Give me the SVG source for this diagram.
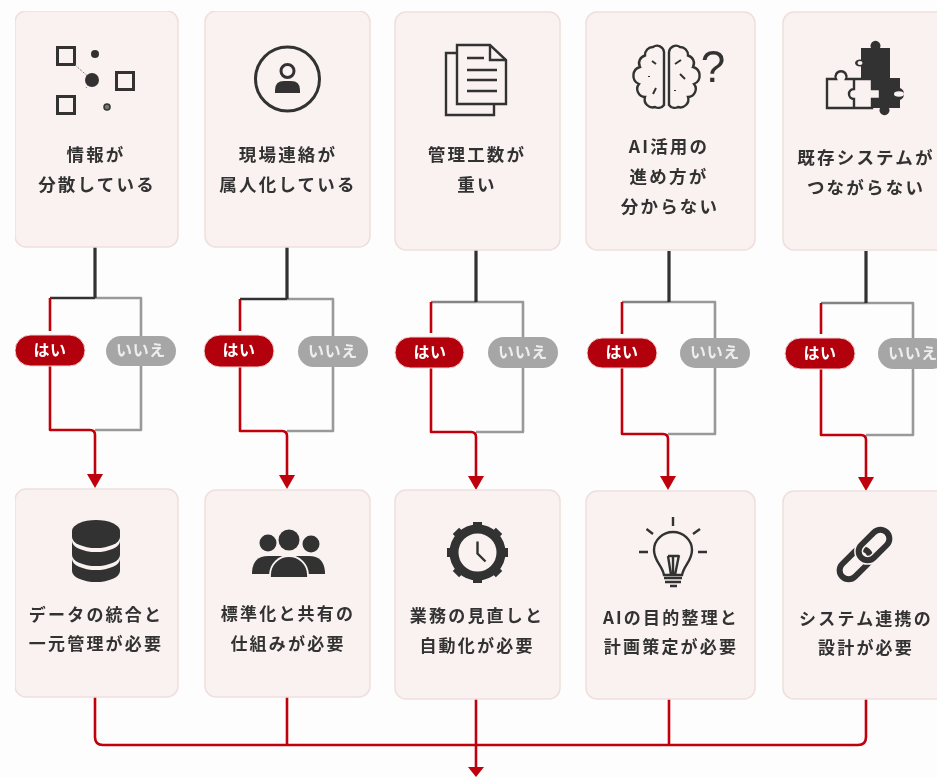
<svg xmlns="http://www.w3.org/2000/svg" width="937" height="777" viewBox="0 0 937 777">
<style>
.card{fill:#f9f2f0;stroke:#eedfdd;stroke-width:1.5}
.t{font-family:"Noto Sans CJK JP","Noto Sans",sans-serif;font-size:17.5px;font-weight:700;fill:#333;text-anchor:middle;letter-spacing:2.2px}
.b{font-size:17px;letter-spacing:2.2px}
.yes rect{fill:#b3000a;stroke:#f0d5d5;stroke-width:1}
.no rect{fill:#a6a6a6}
.yes text,.no text{font-family:"Noto Sans CJK JP",sans-serif;font-size:16px;font-weight:700;text-anchor:middle;letter-spacing:.6px}
.yes text{fill:#fff}.no text{fill:#eee}
.ln{fill:none;stroke:#333;stroke-width:3}
.thin{fill:none;stroke:#333;stroke-width:2.400}
.dk{fill:#333}
.k{fill:none;stroke-width:2.600;stroke-linejoin:round}
.blk{stroke:#303030}.gry{stroke:#999}.red{stroke:#c00008}
.st{stroke-width:3.200}
.hd{fill:#bf0008}
</style>
<rect width="937" height="777" fill="#fefdfd"/>
<g filter="url(#soft)">
<defs><filter id="soft" x="0" y="0" width="100%" height="100%"><feGaussianBlur stdDeviation="0.5"/></filter></defs>
<g id="connectors">
<path class="k gry" d="M95 298H141V430H95"/>
<path class="k blk st" d="M95 247V298"/><path class="k blk" d="M95 298H50"/>
<path class="k red" d="M50 298V331M50 366V430H90Q95 430 95 435V475"/>
<polygon class="hd" points="87,474 103,474 95,488"/>
<path class="k gry" d="M287 299H333V431H287"/>
<path class="k blk st" d="M287 247V299"/><path class="k blk" d="M287 299H240"/>
<path class="k red" d="M240 299V331M240 367V431H282Q287 431 287 436V476"/>
<polygon class="hd" points="279,475 295,475 287,489"/>
<path class="k gry" d="M476 302H523V432H476"/>
<path class="k blk st" d="M476 250V302"/>
<path class="k blk" stroke-opacity=".6" d="M476 302H431"/>
<path class="k red" d="M431 302V333M431 368V432H471Q476 432 476 437V477"/>
<polygon class="hd" points="468,476 484,476 476,490"/>
<path class="k gry" d="M669 302H715V434H668"/>
<path class="k blk st" d="M669 251V302"/>
<path class="k blk" stroke-opacity=".6" d="M669 302H622"/>
<path class="k red" d="M622 302V334M622 368V434H663Q668 434 668 439V477"/>
<polygon class="hd" points="660,476 676,476 668,490"/>
<path class="k gry" d="M866 303H913V340M913 369V435H866"/>
<path class="k blk st" d="M866 251V303"/>
<path class="k blk" stroke-opacity=".6" d="M866 303H821"/>
<path class="k red" d="M821 303V334M821 369V435H861Q866 435 866 440V478"/>
<polygon class="hd" points="858,477 874,477 866,491"/>
<path class="k red" stroke-width="3" d="M95 697V737Q95 745 103 745H858Q866 745 866 737V699M287 697V745M669 699V745M476 699V768"/>
<polygon class="hd" points="468,767 484,767 476,777"/>
</g>

<g id="q1"><rect class="card" x="15" y="11" width="163" height="236" rx="11"/>
<g class="ln"><rect x="57.500" y="47.500" width="17" height="17"/><rect x="116.500" y="72.500" width="17" height="17"/><rect x="57.500" y="96.500" width="17" height="17"/></g>
<path d="M75 65L92 80L86 88" fill="none" stroke="#8a7a78" stroke-width="1" stroke-dasharray="2 1.500"/>
<circle class="dk" cx="95" cy="54" r="4"/><circle class="dk" cx="92" cy="80" r="7"/><circle cx="107" cy="107" r="3" fill="#777" stroke="#333" stroke-width="1.500"/>
<text class="t" x="96" y="161">情報が</text><text class="t" x="97" y="191">分散している</text></g>

<g id="q2"><rect class="card" x="205" y="11" width="165" height="236" rx="11"/>
<circle class="ln" cx="287.500" cy="79" r="32"/><circle class="ln" cx="287.500" cy="71" r="6.500"/>
<path class="dk" d="M275 93V90Q275 81 284 81H291Q300 81 300 90V93Z"/>
<text class="t" x="288" y="161">現場連絡が</text><text class="t" x="288" y="191">属人化している</text></g>

<g id="q3"><rect class="card" x="395" y="12" width="165" height="238" rx="11"/>
<path class="thin" d="M457 53H446V115H494V104"/>
<path class="thin" d="M457 45H490L506 60V104H457Z"/><path class="thin" stroke-width="1.500" d="M490 45V60H506"/>
<path class="thin" d="M467 58H484M467 70H497M467 80H497M467 91H497"/>
<text class="t" x="477" y="161">管理工数が</text><text class="t" x="477" y="191">重い</text></g>

<g id="q4"><rect class="card" x="586" y="12" width="169" height="238" rx="11"/>
<g id="brain" class="thin"><path d="M664 105V52A7 7 0 0 0 653 47A8 8 0 0 0 645 55.500A8 8 0 0 0 640 67A9 9 0 0 0 639 84A8 8 0 0 0 645 97A8 8 0 0 0 655 107A7 7 0 0 0 664 105Z"/>
<path d="M669 105V52A7 7 0 0 1 680 47A8 8 0 0 1 688 55.500A8 8 0 0 1 693 67A9 9 0 0 1 694 84A8 8 0 0 1 688 97A8 8 0 0 1 678 107A7 7 0 0 1 669 105Z"/>
<path stroke-width="2" d="M652 61L656 64M649 76V77M656 88L653 94M675 64L681 60M680 74L685 79M675 90V91"/></g>
<text x="713" y="82" font-family="Liberation Sans,sans-serif" font-size="44" fill="#333" text-anchor="middle">?</text>
<text class="t" x="669" y="153">AI活用の</text><text class="t" x="669" y="183">進め方が</text><text class="t" x="670" y="213">分からない</text></g>

<g id="q5"><rect class="card" x="783" y="12" width="170" height="238" rx="11"/>
<path class="dk" d="M861 48H871A5 5 0 1 1 880 48H890V78H900V88A6.500 6.500 0 0 1 900 100V108H889A5 5 0 1 1 880 108H872V80H861Z"/>
<ellipse cx="899" cy="94" rx="5" ry="2.800" fill="#f9f2f0"/>
<ellipse cx="860" cy="63" rx="5" ry="3.500" fill="#333"/><ellipse cx="860" cy="63" rx="2.500" ry="2" fill="#f9f2f0"/>
<path d="M827 108V79H836A5.500 5.500 0 1 1 846 79H872V89H880V99H872V108Z" fill="#f9f2f0" stroke="#333" stroke-width="2.400"/>
<path class="thin" d="M854 108V99A4.500 4.500 0 0 1 854 89V79"/>
<text class="t" x="866" y="164">既存システムが</text><text class="t" x="866" y="194">つながらない</text></g>

<g id="y1" class="yes"><rect x="15" y="335" width="70" height="31" rx="15.500"/><text x="50" y="356">はい</text></g>
<g id="n1" class="no"><rect x="106" y="336" width="70" height="30" rx="15"/><text x="141" y="356">いいえ</text></g>
<g id="y2" class="yes"><rect x="204" y="335" width="70" height="32" rx="16"/><text x="239" y="356">はい</text></g>
<g id="n2" class="no"><rect x="298" y="336" width="70" height="31" rx="15.500"/><text x="333" y="357">いいえ</text></g>
<g id="y3" class="yes"><rect x="395" y="337" width="69" height="31" rx="15.500"/><text x="430" y="358">はい</text></g>
<g id="n3" class="no"><rect x="488" y="337" width="70" height="31" rx="15.500"/><text x="523" y="358">いいえ</text></g>
<g id="y4" class="yes"><rect x="587" y="338" width="70" height="30" rx="15"/><text x="622" y="358">はい</text></g>
<g id="n4" class="no"><rect x="680" y="338" width="70" height="30" rx="15"/><text x="715" y="358">いいえ</text></g>
<g id="y5" class="yes"><rect x="785" y="338" width="70" height="31" rx="15.500"/><text x="820" y="359">はい</text></g>
<g id="n5" class="no"><rect x="878" y="338" width="70" height="31" rx="15.500"/><text x="913" y="359">いいえ</text></g>

<g id="a1"><rect class="card" x="15" y="489" width="163" height="208" rx="11"/>
<path class="dk" d="M72 531A24 11 0 0 1 120 531V537A24 11 0 0 1 72 537Z"/>
<path class="dk" d="M72 541A24 11 0 0 0 120 541V555A24 11 0 0 1 72 555Z"/>
<path class="dk" d="M72 559A24 11 0 0 0 120 559V571A24 11 0 0 1 72 571Z"/>
<text class="t b" x="96" y="621">データの統合と</text><text class="t b" x="96" y="650">一元管理が必要</text></g>

<g id="a2"><rect class="card" x="205" y="490" width="165" height="207" rx="11"/>
<circle class="dk" cx="289" cy="540" r="10.500"/><circle class="dk" cx="268" cy="543" r="8.500"/><circle class="dk" cx="311" cy="544" r="8.500"/>
<path class="dk" d="M252 574V572Q253 556 268 556H309Q324 556 325 572V574Z"/>
<path class="dk" stroke="#f9f2f0" stroke-width="1.800" d="M270 578V575A19 19 0 0 1 308 575V578Z"/>
<text class="t b" x="288" y="620">標準化と共有の</text><text class="t b" x="288" y="650">仕組みが必要</text></g>

<g id="a3"><rect class="card" x="395" y="490" width="165" height="209" rx="11"/>
<g transform="translate(477.500 552.500)"><circle r="23.500" fill="none" stroke="#333" stroke-width="9"/>
<g class="dk"><rect x="-4.500" y="-30.500" width="9" height="9"/><rect x="-4.500" y="-30.500" width="9" height="9" transform="rotate(45)"/><rect x="-4.500" y="-30.500" width="9" height="9" transform="rotate(90)"/><rect x="-4.500" y="-30.500" width="9" height="9" transform="rotate(135)"/><rect x="-4.500" y="-30.500" width="9" height="9" transform="rotate(180)"/><rect x="-4.500" y="-30.500" width="9" height="9" transform="rotate(225)"/><rect x="-4.500" y="-30.500" width="9" height="9" transform="rotate(270)"/><rect x="-4.500" y="-30.500" width="9" height="9" transform="rotate(315)"/></g>
<path class="thin" d="M0 -11V1L8 9"/></g>
<text class="t b" x="477" y="622">業務の見直しと</text><text class="t b" x="477" y="652">自動化が必要</text></g>

<g id="a4"><rect class="card" x="586" y="491" width="169" height="208" rx="11"/>
<path class="thin" d="M664 575C662 565 654 561 654 550A19 18 0 0 1 692 550C692 561 684 565 682 575Z"/>
<path class="thin" stroke-width="1.500" d="M668 556L671 575M673 556V575M679 555L675 575M668 556H679"/>
<path class="thin" d="M664 578H682M665 582H681M670 586H677M673 517V526M646.500 529L653 534M700 529L693 534M639 552H648M698 552H707"/>
<text class="t b" x="671" y="624">AIの目的整理と</text><text class="t b" x="671" y="653">計画策定が必要</text></g>

<g id="a5"><rect class="card" x="783" y="491" width="170" height="208" rx="11"/>
<g fill="none" stroke-linejoin="round">
<rect x="-18" y="-9" width="36" height="18" rx="9" transform="translate(855 564) rotate(-45)" stroke="#333" stroke-width="6"/>
<rect x="-18" y="-9" width="36" height="18" rx="9" transform="translate(874 545) rotate(-45)" stroke="#f9f2f0" stroke-width="9"/>
<rect x="-18" y="-9" width="36" height="18" rx="9" transform="translate(874 545) rotate(-45)" stroke="#333" stroke-width="6"/>
</g>
<text class="t b" x="866" y="625">システム連携の</text><text class="t b" x="866" y="654">設計が必要</text></g>
</g>
</svg>
